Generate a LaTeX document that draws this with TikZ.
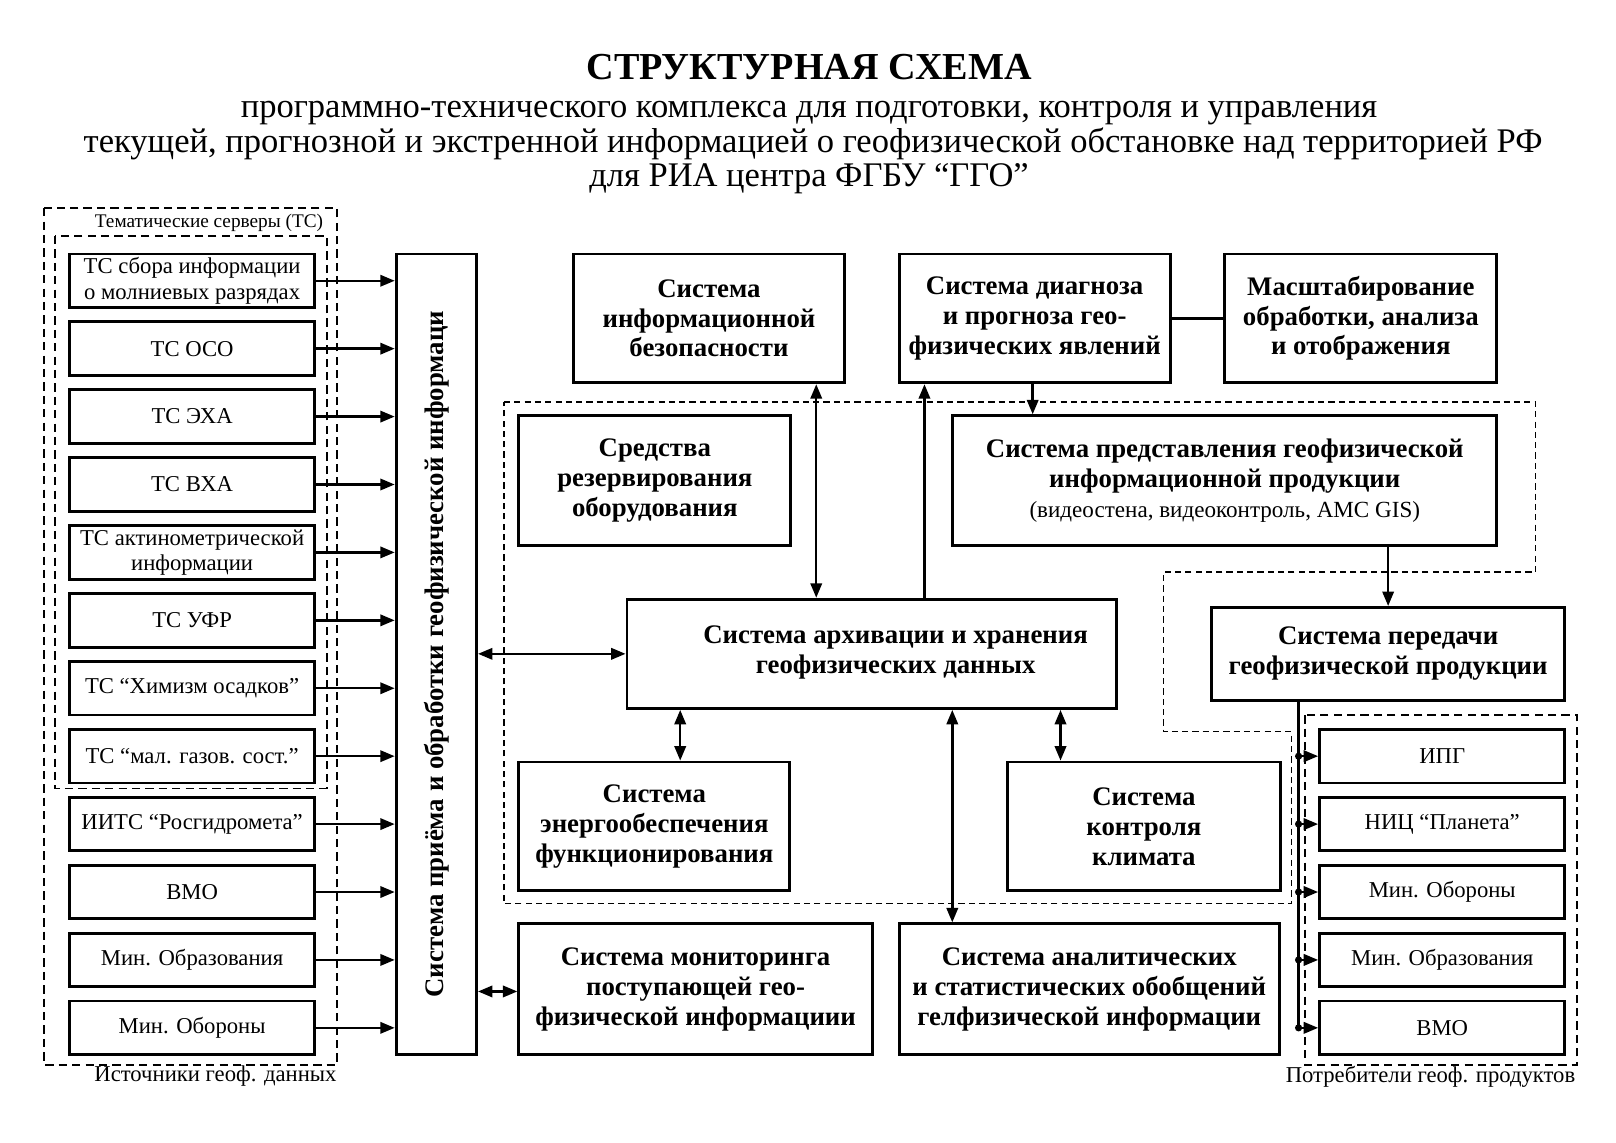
\documentclass[tikz,border=0pt]{standalone}
\usepackage{fontspec}
\setmainfont{Liberation Serif}
\usetikzlibrary{arrows.meta}
\begin{document}
\begin{tikzpicture}[x=1pt,y=-1pt,
  box/.style={draw, line width=2.8pt, inner sep=1pt, align=center, anchor=north west, font=\fontsize{22}{24.5}\selectfont},
  bbox/.style={box, font=\bfseries\fontsize{26}{29}\selectfont},
  arr/.style={line width=2.4pt, -{Triangle[length=14pt,width=11pt]}},
  darr/.style={line width=2.4pt, {Triangle[length=14pt,width=11pt]}-{Triangle[length=14pt,width=11pt]}},
  grp/.style={line width=1.8pt, dash pattern=on 8pt off 5pt},
  zone/.style={line width=1.1pt, dash pattern=on 6pt off 4pt},
  lbl/.style={font=\fontsize{22}{24}\selectfont},
  sub/.style={anchor=base, font=\fontsize{33.5}{36}\selectfont},
]
\useasboundingbox (0,0) rectangle (1568,1109);

% title
\node[anchor=base, font=\bfseries\fontsize{37}{40}\selectfont] (title) at (785,77) {СТРУКТУРНАЯ СХЕМА};
\node[sub] (sub1) at (785,114) {программно-технического комплекса для подготовки, контроля и управления};
\node[sub] (sub2) at (789,148) {текущей, прогнозной и экстренной информацией о геофизической обстановке над территорией РФ};
\node[sub] (sub3) at (785,181) {для РИА центра ФГБУ “ГГО”};

% left groups
\draw[grp] (43,202) rectangle (327,1033);
\draw[grp] (53,229) rectangle (317,765);
\node[anchor=east, font=\fontsize{18.7}{20}\selectfont] (lblts) at (317,216) {Тематические серверы (ТС)};
\node[anchor=east, lbl] (lblsrc) at (330,1044) {Источники геоф. данных};

% big vertical box
\node[box, minimum width=78pt, minimum height=777pt] (big) at (383,245) {};
\node[rotate=90, font=\bfseries\fontsize{26}{28}\selectfont] (bigtxt) at (big.center) {Система приёма и обработки геофизической информаци};

% left boxes
\foreach \i/\t in {1/{ТС сбора информации\\о молниевых разрядах},2/{ТС ОСО},3/{ТС ЭХА},4/{ТС ВХА},
  5/{ТС актинометрической\\информации},6/{ТС УФР},7/{ТС “Химизм осадков”},8/{ТС “мал. газов. сост.”},
  9/{ИИТС “Росгидромета”},10/{ВМО},11/{Мин. Образования},12/{Мин. Обороны}}{
  \pgfmathsetmacro\yy{245+65.9*(\i-1)}
  \node[box, minimum width=238pt, minimum height=52pt] (s\i) at (66,\yy) {\t};
  \draw[arr] (s\i.east) -- (s\i.east -| big.west);
}

% top boxes
\node[bbox, minimum width=263pt, minimum height=125pt] (infobez) at (555,245) {Система\\информационной\\безопасности};
\node[bbox, minimum width=263pt, minimum height=125pt] (diag) at (871,245) {Система диагноза\\и прогноза гео-\\физических явлений};
\node[bbox, minimum width=264pt, minimum height=125pt] (scale) at (1187,245) {Масштабирование\\обработки, анализа\\и отображения};
\draw[line width=2.8pt] (diag.east) -- (scale.west);

% central dashed zone
\draw[zone] (489,390) -- (1490,390) -- (1490,555) -- (1129,555) -- (1129,710) -- (1253,710) -- (1253,877) -- (489,877) -- cycle;

\node[bbox, minimum width=264pt, minimum height=126pt] (reserve) at (502,402) {Средства\\резервирования\\оборудования};
\node[bbox, minimum width=528pt, minimum height=126pt] (repr) at (923,402)
  {Система представления геофизической\\информационной продукции\\{\mdseries\fontsize{22.4}{27}\selectfont (видеостена, видеоконтроль, AMC GIS)}};
\node[box, minimum width=475pt, minimum height=106pt] (arch) at (607,580) {};
\node[font=\bfseries\fontsize{26}{29}\selectfont, align=center] (archtxt) at (869,633) {Система архивации и хранения\\геофизических данных};
\node[bbox, minimum width=263pt, minimum height=125pt] (energy) at (502,738) {Система\\энергообеспечения\\функционирования};
\node[bbox, minimum width=265pt, minimum height=125pt] (climate) at (976,738) {Система\\контроля\\климата};

% bottom boxes
\node[bbox, minimum width=343pt, minimum height=127pt] (mon) at (502,895) {Система мониторинга\\поступающей гео-\\физической информациии};
\node[bbox, minimum width=369pt, minimum height=127pt] (anal) at (871,895) {Система аналитических\\и статистических обобщений\\гелфизической информации};

% transmission
\node[bbox, minimum width=343pt, minimum height=90pt] (trans) at (1174,588) {Система передачи\\геофизической продукции};

% consumers
\draw[grp] (1266,694) rectangle (1530,1033);
\node[anchor=east, lbl] (lblcons) at (1532,1045) {Потребители геоф. продуктов};
\coordinate (bus) at (1260,0);
\foreach \i/\t in {1/{ИПГ},2/{НИЦ “Планета”},3/{Мин. Обороны},4/{Мин. Образования},5/{ВМО}}{
  \pgfmathsetmacro\yy{706.3+65.9*(\i-1)}
  \node[box, minimum width=238pt, minimum height=52pt] (c\i) at (1279,\yy) {\t};
}
\draw[line width=2.4pt] (trans.south -| bus) -- (c5.west -| bus);
\foreach \i in {1,...,5}{
  \fill (c\i.west -| bus) circle (3.5pt);
  \draw[arr] (c\i.west -| bus) -- (c\i.west);
}

% connectors
\coordinate (xa) at (792,0);
\coordinate (xb) at (897,0);
\coordinate (xc) at (1002,0);
\coordinate (xd) at (660,0);
\coordinate (xe) at (1029,0);
\coordinate (xf) at (924,0);
\coordinate (ym) at (0,962);
\draw[darr] (infobez.south -| xa) -- (arch.north -| xa);
\draw[arr] (arch.north -| xb) -- (diag.south -| xb);
\draw[arr] (diag.south -| xc) -- (repr.north -| xc);
\draw[darr] (arch.west -| big.east) -- (arch.west);
\draw[darr] (arch.south -| xd) -- (energy.north -| xd);
\draw[darr] (arch.south -| xe) -- (climate.north -| xe);
\draw[darr] (arch.south -| xf) -- (anal.north -| xf);
\draw[darr] (big.east |- ym) -- (mon.west |- ym);
\draw[arr] (repr.south -| trans.north) -- (trans.north);
\end{tikzpicture}
\end{document}
